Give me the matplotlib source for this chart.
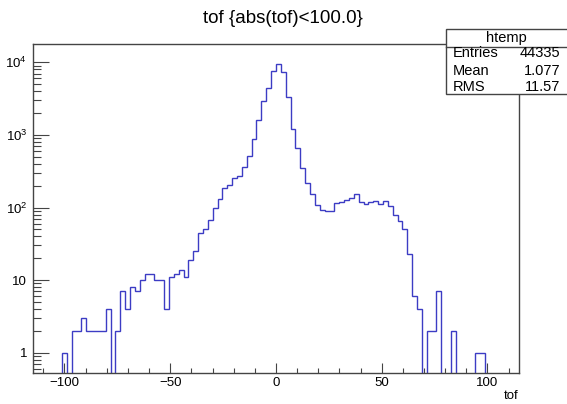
import numpy as np
import matplotlib
matplotlib.use("Agg")
from matplotlib import pyplot as plt
from matplotlib.patches import Rectangle
from matplotlib.lines import Line2D
from matplotlib.ticker import FixedLocator, LogLocator, FuncFormatter, MultipleLocator

plt.rcParams['font.family'] = ['Liberation Sans', 'DejaVu Sans']

# histogram htemp: 100 bins over [-115, 115]
x_lo, x_hi, n_bins = -115.0, 115.0, 100
counts = [0, 0, 0, 0, 0, 0, 1, 0, 2, 2,
          3, 2, 2, 2, 2, 4, 0, 2, 7, 4,
          8, 7, 10, 12, 12, 10, 10, 4, 11, 12,
          14, 11, 19, 25, 44, 50, 67, 100, 131, 188,
          204, 252, 272, 365, 512, 880, 1607, 2934, 4384, 7676,
          9484, 7280, 3296, 1194, 653, 350, 215, 155, 110, 92,
          91, 89, 117, 120, 127, 137, 153, 118, 112, 118,
          124, 112, 124, 104, 78, 66, 50, 23, 6, 4,
          0, 2, 2, 7, 0, 0, 2, 0, 0, 0,
          0, 1, 1, 0, 0, 0, 0, 0, 0, 0]
title = "tof {abs(tof)<100.0}"
hist_name = "htemp"
stat_names = ["Entries", "Mean", "RMS"]
stat_values = ["44335", "1.077", "11.57"]

edges = np.linspace(x_lo, x_hi, n_bins + 1)
vals = np.array(counts, dtype=float)
vals = np.where(vals > 0, vals, 1e-3)  # empty bins drop to the bottom like ROOT

fig = plt.figure(figsize=(5.67, 4.04), dpi=100)
ax = fig.add_axes([0.0577, 0.0767, 0.858, 0.8143])

ax.stairs(vals, edges, baseline=None, color='#3c3cc4', lw=1.0)
ax.set_yscale('log')
ax.set_xlim(x_lo, x_hi)
ax.set_ylim(0.525, 1.79e4)

for s in ax.spines.values():
    s.set_color('#444444')
    s.set_linewidth(1.0)

ax.xaxis.set_major_locator(FixedLocator([-100, -50, 0, 50, 100]))
ax.xaxis.set_minor_locator(MultipleLocator(10))
ax.yaxis.set_major_locator(LogLocator(base=10))
ax.yaxis.set_minor_locator(LogLocator(base=10, subs=np.arange(2, 10)))


def ylab(v, pos):
    if v == 1:
        return "1"
    if v == 10:
        return "10"
    return r"$\mathregular{10^{%d}}$" % int(round(np.log10(v)))


ax.yaxis.set_major_formatter(FuncFormatter(ylab))
ax.tick_params(axis='x', which='major', direction='in', length=7.2, width=0.8,
               color='#444444', labelsize=9.5, pad=3)
ax.tick_params(axis='x', which='minor', direction='in', length=3.6, width=0.8, color='#444444')
ax.tick_params(axis='y', which='major', direction='in', length=11.5, width=0.8,
               color='#444444', labelsize=9.5, pad=4)
ax.tick_params(axis='y', which='minor', direction='in', length=5.8, width=0.8, color='#444444')

# axis title sits under the right end of the x axis
fig.text(0.914, 0.021, "tof", ha='right', va='center', fontsize=9.5)

fig.text(0.499, 0.955, title, ha='center', va='center', fontsize=13.5)

# stats box
bx0, bx1, by0, by1, bdiv = 0.7866, 1.01, 0.767, 0.928, 0.8837
fig.add_artist(Rectangle((bx0, by0), bx1 - bx0, by1 - by0, transform=fig.transFigure,
                         facecolor='white', edgecolor='#444444', lw=1.0, zorder=5))
fig.add_artist(Line2D([bx0, bx1], [bdiv, bdiv], transform=fig.transFigure,
                      color='#444444', lw=1.0, zorder=6))
fig.text(0.8936, 0.906, hist_name, ha='center', va='center', fontsize=10.5, zorder=7)
rows_y = [0.868, 0.825, 0.784]
for name, value, yy in zip(stat_names, stat_values, rows_y):
    fig.text(0.799, yy, name, ha='left', va='center', fontsize=10.5, zorder=7)
    fig.text(0.9877, yy, value, ha='right', va='center', fontsize=10.5, zorder=7)

fig.savefig('out.png', dpi=100)
